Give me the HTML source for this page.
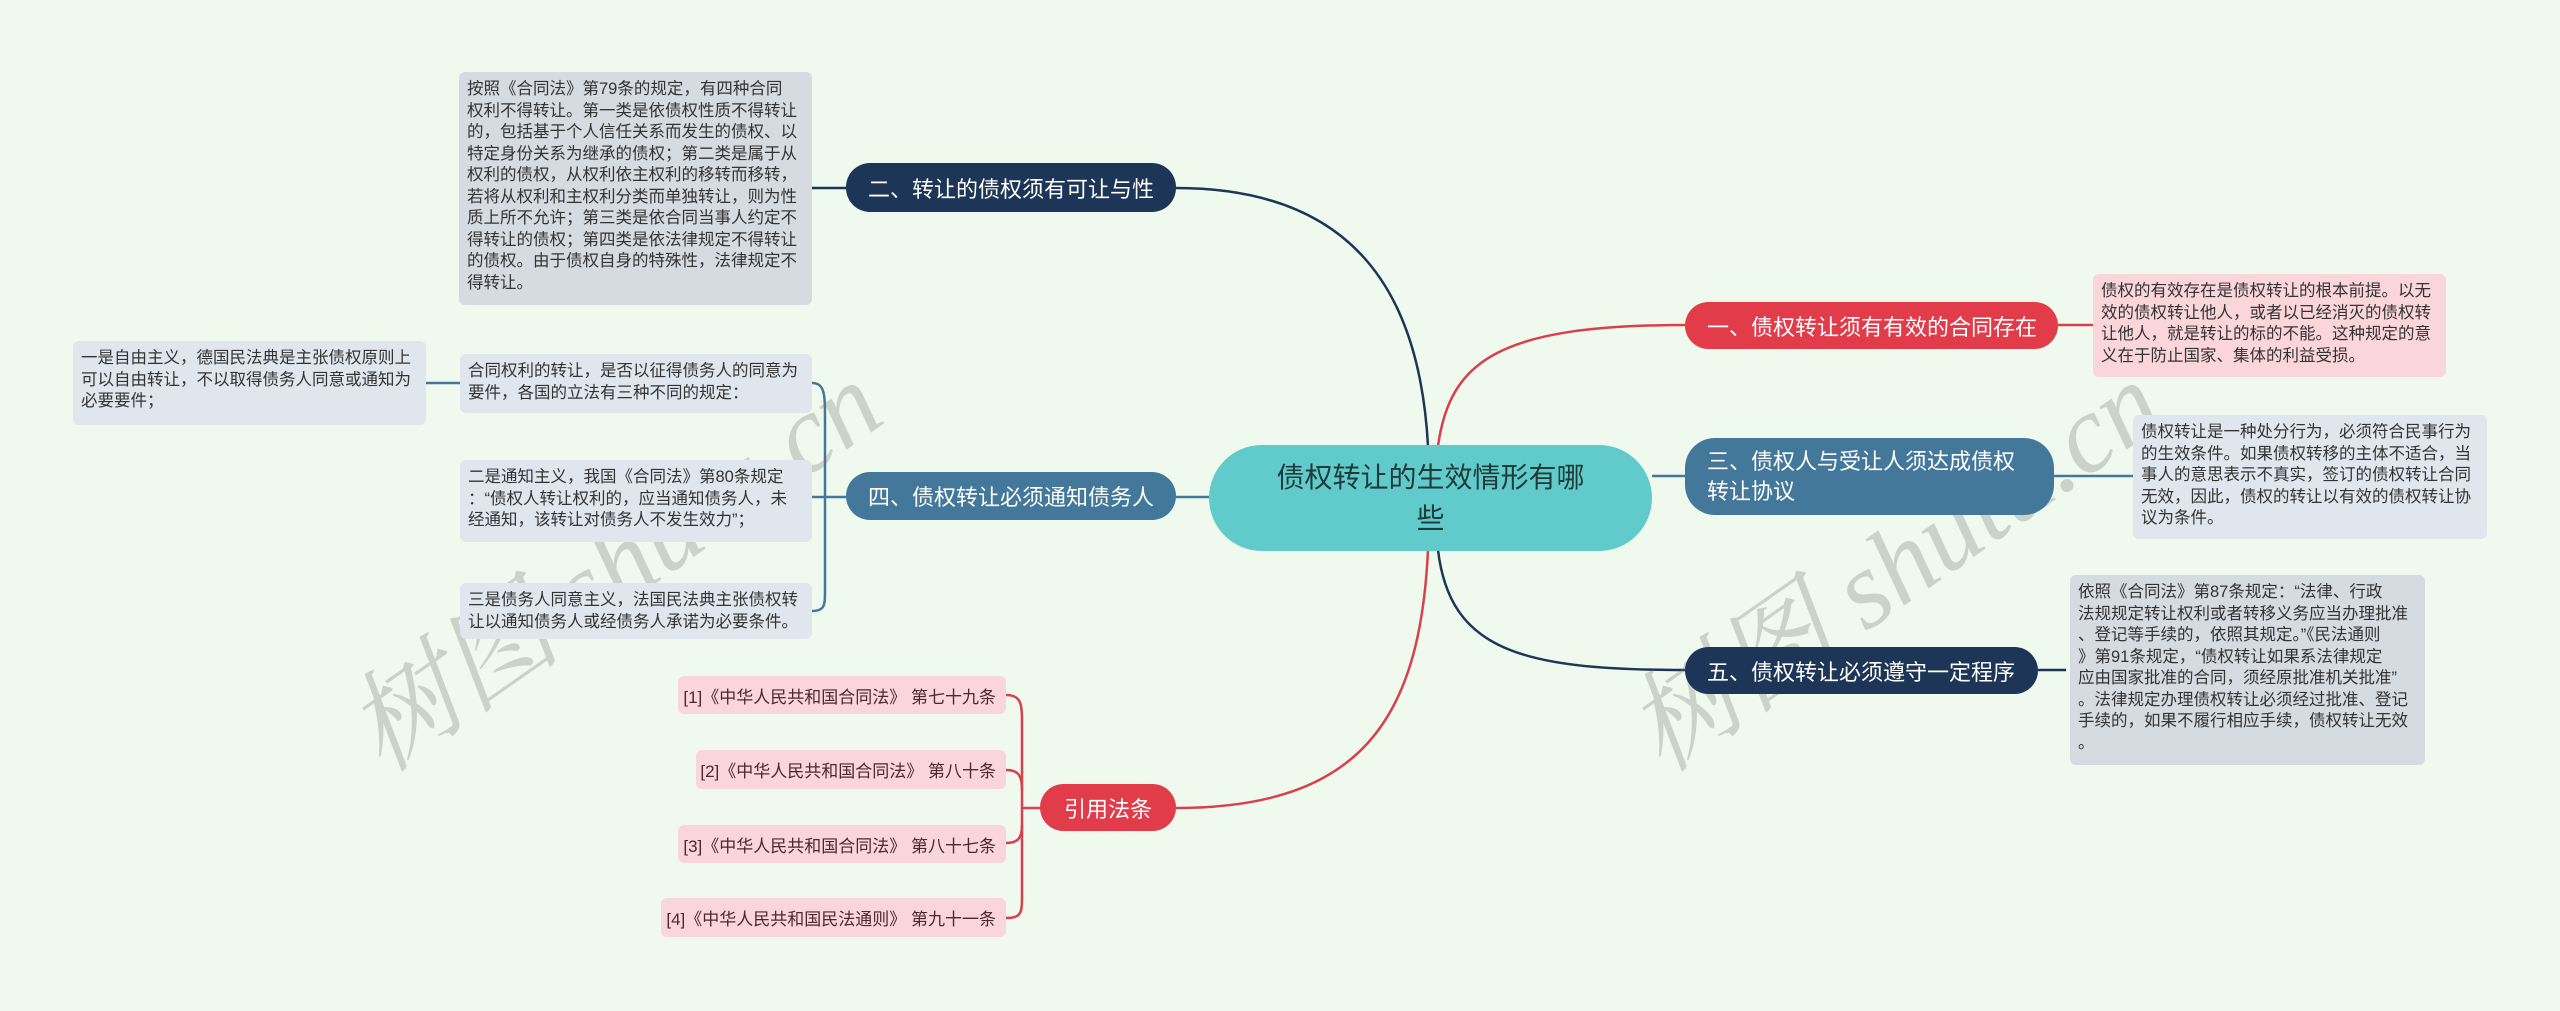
<!DOCTYPE html>
<html><head><meta charset="utf-8">
<style>
*{margin:0;padding:0;box-sizing:border-box}
body{width:2560px;height:1011px;background:#f0f9ee;position:relative;overflow:hidden;font-family:"Liberation Sans","Noto Sans CJK SC",sans-serif}
.n{position:absolute;display:flex;align-items:center;color:#fff;font-size:22px;border-radius:24px;padding:0 22px;white-space:nowrap}
.t{position:absolute;font-size:16.5px;line-height:21.5px;color:#333;border-radius:6px;padding:7px 8px;white-space:nowrap}
.g{background:#d6dae1}
.b{background:#dfe6ee}
.p{background:#fad5da}
.r{position:absolute;background:#fad5da;color:#4a2a2a;font-size:17px;border-radius:6px;display:flex;align-items:center;justify-content:flex-end;padding-right:10px;white-space:nowrap}
.navy{background:#1d3556}
.steel{background:#44789b}
.red{background:#e23c4b}
.wm{position:absolute;font-size:110px;color:rgba(120,120,120,0.3);transform:rotate(-35deg);font-family:"Liberation Serif","Noto Serif CJK SC",serif;font-style:italic;white-space:nowrap}
</style></head><body>
<svg width="2560" height="1011" style="position:absolute;left:0;top:0">
<g fill="none" stroke-width="2.5">
<path d="M1428 446 C1420 300 1360 188 1176 188" stroke="#1d3556"/>
<path d="M1438 446 C1450 360 1500 325 1685 325" stroke="#d8404c"/>
<path d="M1652 476 L1685 476" stroke="#44789b"/>
<path d="M1438 550 C1450 650 1520 670 1685 670" stroke="#1d3556"/>
<path d="M1428 550 C1420 720 1360 808 1176 808" stroke="#d8404c"/>
<path d="M1209 497 L1176 497" stroke="#44789b"/>
<path d="M846 188 L812 188" stroke="#1d3556"/>
<path d="M2058 325 L2093 325" stroke="#d8404c"/>
<path d="M2054 476 L2133 476" stroke="#44789b"/>
<path d="M2038 670 L2066 670" stroke="#1d3556"/>
<path d="M846 497 L825 497" stroke="#44789b"/>
<path d="M812 383 C825 383 825 395 825 420 L825 590 C825 605 825 611 812 611" stroke="#44789b"/>
<path d="M812 497 L825 497" stroke="#44789b"/>
<path d="M460 383 L426 383" stroke="#44789b"/>
<path d="M1040 808 L1022 808" stroke="#d8404c"/>
<path d="M1006 695 C1022 695 1022 705 1022 725 L1022 895 C1022 912 1022 918 1006 918" stroke="#d8404c"/>
<path d="M1006 770 C1018 770 1022 775 1022 790" stroke="#d8404c"/>
<path d="M1006 843 C1018 843 1022 838 1022 825" stroke="#d8404c"/>
</g></svg>

<div class="wm" style="left:300px;top:480px">树图 shutu.cn</div>
<div class="wm" style="left:1580px;top:480px">树图 shutu.cn</div>

<div style="position:absolute;left:1209px;top:445px;width:443px;height:106px;background:#61cbcb;border-radius:53px;display:flex;align-items:center;justify-content:center;text-align:center;font-size:28px;line-height:41px;color:#1f3b3b">债权转让的生效情形有哪<br>些</div>

<div class="n navy" style="left:846px;top:163px;width:330px;height:49px">二、转让的债权须有可让与性</div>
<div class="n steel" style="left:846px;top:472px;width:330px;height:48px">四、债权转让必须通知债务人</div>
<div class="n red" style="left:1040px;top:784px;width:136px;height:47px;justify-content:center;padding:0">引用法条</div>
<div class="n red" style="left:1685px;top:302px;width:373px;height:47px">一、债权转让须有有效的合同存在</div>
<div class="n steel" style="left:1685px;top:438px;width:369px;height:77px;white-space:normal;line-height:30px;border-radius:30px">三、债权人与受让人须达成债权转让协议</div>
<div class="n navy" style="left:1685px;top:647px;width:353px;height:47px">五、债权转让必须遵守一定程序</div>

<div class="t g" style="left:459px;top:72px;width:353px;height:233px">按照《合同法》第79条的规定，有四种合同<br>权利不得转让。第一类是依债权性质不得转让<br>的，包括基于个人信任关系而发生的债权、以<br>特定身份关系为继承的债权；第二类是属于从<br>权利的债权，从权利依主权利的移转而移转，<br>若将从权利和主权利分类而单独转让，则为性<br>质上所不允许；第三类是依合同当事人约定不<br>得转让的债权；第四类是依法律规定不得转让<br>的债权。由于债权自身的特殊性，法律规定不<br>得转让。</div>
<div class="t b" style="left:73px;top:341px;width:353px;height:84px">一是自由主义，德国民法典是主张债权原则上<br>可以自由转让，不以取得债务人同意或通知为<br>必要要件；</div>
<div class="t b" style="left:460px;top:354px;width:352px;height:59px">合同权利的转让，是否以征得债务人的同意为<br>要件，各国的立法有三种不同的规定：</div>
<div class="t b" style="left:460px;top:460px;width:352px;height:82px">二是通知主义，我国《合同法》第80条规定<br>：“债权人转让权利的，应当通知债务人，未<br>经通知，该转让对债务人不发生效力”；</div>
<div class="t b" style="left:460px;top:583px;width:352px;height:56px">三是债务人同意主义，法国民法典主张债权转<br>让以通知债务人或经债务人承诺为必要条件。</div>

<div class="t p" style="left:2093px;top:274px;width:353px;height:103px">债权的有效存在是债权转让的根本前提。以无<br>效的债权转让他人，或者以已经消灭的债权转<br>让他人，就是转让的标的不能。这种规定的意<br>义在于防止国家、集体的利益受损。</div>
<div class="t b" style="left:2133px;top:415px;width:354px;height:124px">债权转让是一种处分行为，必须符合民事行为<br>的生效条件。如果债权转移的主体不适合，当<br>事人的意思表示不真实，签订的债权转让合同<br>无效，因此，债权的转让以有效的债权转让协<br>议为条件。</div>
<div class="t g" style="left:2070px;top:575px;width:355px;height:190px">依照《合同法》第87条规定：“法律、行政<br>法规规定转让权利或者转移义务应当办理批准<br>、登记等手续的，依照其规定。”《民法通则<br>》第91条规定，“债权转让如果系法律规定<br>应由国家批准的合同，须经原批准机关批准”<br>。法律规定办理债权转让必须经过批准、登记<br>手续的，如果不履行相应手续，债权转让无效<br>。</div>

<div class="r" style="left:678px;top:676px;width:328px;height:38px">[1]《中华人民共和国合同法》 第七十九条</div>
<div class="r" style="left:696px;top:750px;width:310px;height:39px">[2]《中华人民共和国合同法》 第八十条</div>
<div class="r" style="left:678px;top:825px;width:328px;height:38px">[3]《中华人民共和国合同法》 第八十七条</div>
<div class="r" style="left:661px;top:898px;width:345px;height:39px">[4]《中华人民共和国民法通则》 第九十一条</div>
</body></html>
